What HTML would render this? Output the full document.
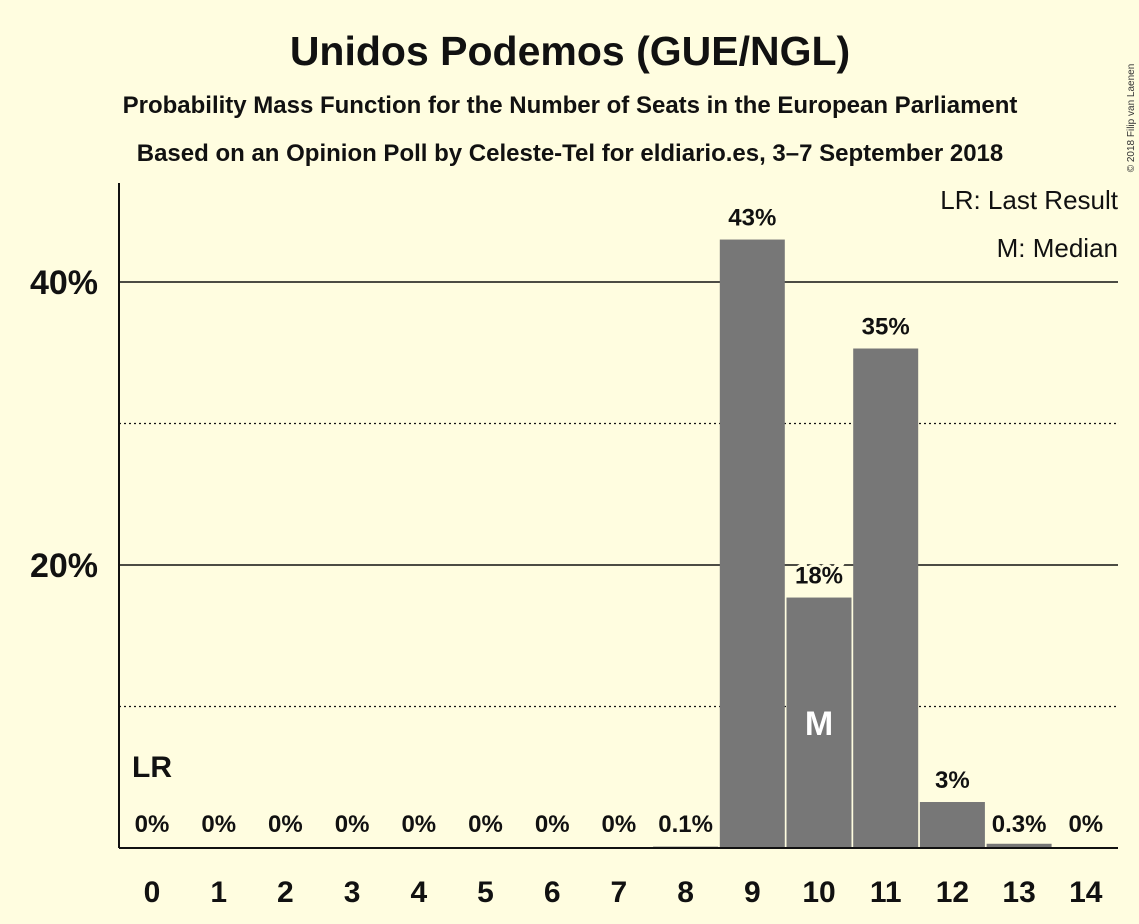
<!DOCTYPE html>
<html><head><meta charset="utf-8">
<style>
html,body{margin:0;padding:0;background:#FFFDE0;}
svg{display:block;font-family:"Liberation Sans",sans-serif;}
</style></head>
<body>
<svg id="chart" width="1139" height="924" viewBox="0 0 1139 924">
<rect width="1139" height="924" fill="#FFFDE0"/>
<text x="570" y="65" text-anchor="middle" font-size="41" font-weight="bold" fill="#111">Unidos Podemos (GUE/NGL)</text>
<text x="570" y="113" text-anchor="middle" font-size="24" font-weight="bold" fill="#111">Probability Mass Function for the Number of Seats in the European Parliament</text>
<text x="570" y="161" text-anchor="middle" font-size="24" font-weight="bold" fill="#111">Based on an Opinion Poll by Celeste-Tel for eldiario.es, 3–7 September 2018</text>
<text x="1134" y="118" font-size="10" fill="#333" transform="rotate(-90 1134 118)" text-anchor="middle">© 2018 Filip van Laenen</text>
<g id="grid"></g>
<g id="bars"></g>
<line x1="119" y1="183" x2="119" y2="848" stroke="#111" stroke-width="2"/>
<line x1="119" y1="848" x2="1118" y2="848" stroke="#111" stroke-width="2"/>
<text x="1118" y="209" text-anchor="end" font-size="26" fill="#111">LR: Last Result</text>
<text x="1118" y="257" text-anchor="end" font-size="26" fill="#111">M: Median</text>
</svg>
<script>
const seats = [0,1,2,3,4,5,6,7,8,9,10,11,12,13,14];
const probs = [0,0,0,0,0,0,0,0,0.1,43,17.7,35.3,3.25,0.3,0];
const valueLabels = ["0%","0%","0%","0%","0%","0%","0%","0%","0.1%","43%","18%","35%","3%","0.3%","0%"];
const yTicks = [10,20,30,40];
const yTickLabels = ["","20%","","40%"];
const lastResult = 0;
const median = 10;

const NS="http://www.w3.org/2000/svg";
const y0=848, pxPer=14.15, x0=152, step=66.7, bw=65;
const ys=v=>y0-v*pxPer, xs=i=>x0+i*step;
const grid=document.getElementById('grid'), bars=document.getElementById('bars'), svg=document.getElementById('chart');
function mk(tag,attrs,parent){const e=document.createElementNS(NS,tag);for(const k in attrs)e.setAttribute(k,attrs[k]);parent.appendChild(e);return e;}
yTicks.forEach((t,i)=>{
  const solid=yTickLabels[i]!=="";
  const l=mk('line',{x1:119,x2:1118,y1:ys(t),y2:ys(t),stroke:'#111','stroke-width':solid?1.6:1.2,'stroke-dasharray':solid?'':'2,3'},grid);
  
  
  if(solid){
    const tx=mk('text',{x:98,y:ys(t)+12,'text-anchor':'end','font-size':34,'font-weight':'bold',fill:'#111'},svg);
    tx.textContent=yTickLabels[i];
    
    
  }
});
seats.forEach((s,i)=>{
  const v=probs[i], cx=xs(i);
  if(v>0){
    const r=mk('rect',{x:cx-bw/2,y:ys(v),width:bw,height:y0-ys(v),fill:'#777'},bars);
    
    
  }
  const lt=mk('text',{x:cx,y:ys(v)-14,'text-anchor':'middle','font-size':24,'font-weight':'bold',fill:'#111',stroke:'#FFFDE0','stroke-width':6,'paint-order':'stroke'},bars);
  if(v<2) lt.setAttribute('y',832);
  lt.textContent=valueLabels[i];
  
  
  const xt=mk('text',{x:cx,y:902,'text-anchor':'middle','font-size':30,'font-weight':'bold',fill:'#111'},svg);
  xt.textContent=s;
  
  
  if(s===median){
    const m=mk('text',{x:cx,y:ys(v/2)+12,'text-anchor':'middle','font-size':34,'font-weight':'bold',fill:'#fff'},bars);
    m.textContent='M';
    
    
  }
  if(s===lastResult){
    const lr=mk('text',{x:cx,y:777,'text-anchor':'middle','font-size':30,'font-weight':'bold',fill:'#111'},bars);
    lr.textContent='LR';
    
    
  }
});
</script>
</body></html>
